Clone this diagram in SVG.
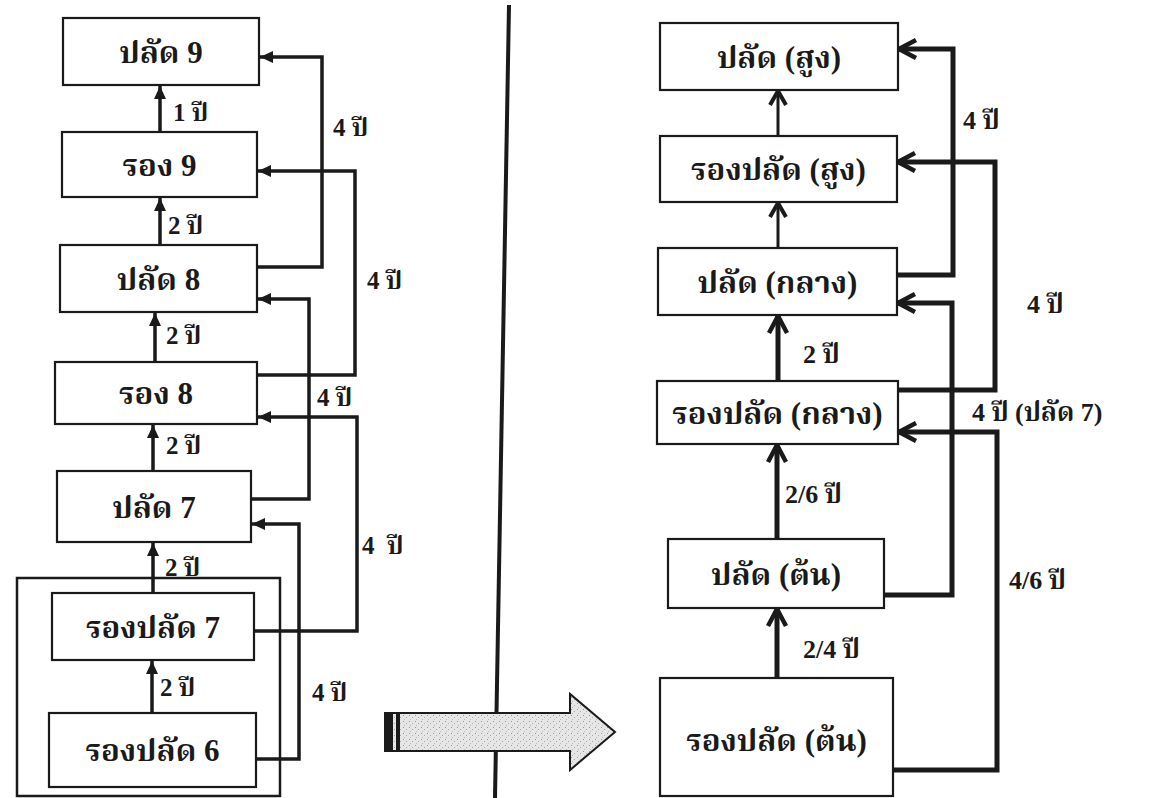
<svg xmlns="http://www.w3.org/2000/svg" width="1161" height="798" viewBox="0 0 1161 798">
<style>
.box{fill:#fff;stroke:#1a1a1a;stroke-width:2.2}
.t{font-family:"Liberation Serif","Noto Serif Thai","Norasi","DejaVu Serif",serif;font-weight:bold;fill:#1a1a1a;text-anchor:middle;dominant-baseline:central;font-size:31px}
.lb{font-family:"Liberation Serif","Noto Serif Thai","Norasi","DejaVu Serif",serif;font-weight:bold;fill:#1a1a1a;font-size:25px}
.lbr{font-family:"Liberation Serif","Noto Serif Thai","Norasi","DejaVu Serif",serif;font-weight:bold;fill:#1a1a1a;font-size:26px}
.cl{fill:none;stroke:#1a1a1a;stroke-width:3.5;marker-end:url(#tri)}
.cr{fill:none;stroke:#1a1a1a;stroke-width:5;marker-end:url(#chev)}
.crt{fill:none;stroke:#1a1a1a;stroke-width:3;marker-end:url(#chevs)}
</style>
<defs>
<marker id="tri" markerUnits="userSpaceOnUse" markerWidth="14" markerHeight="12" refX="13" refY="6" orient="auto">
<path d="M0,0 L13,6 L0,12 z" fill="#1a1a1a"/>
</marker>
<marker id="chev" markerUnits="userSpaceOnUse" markerWidth="24" markerHeight="24" refX="21" refY="12" orient="auto">
<path d="M4,3 L21,12 L4,21" fill="none" stroke="#1a1a1a" stroke-width="4.5"/>
</marker>
<marker id="chevs" markerUnits="userSpaceOnUse" markerWidth="22" markerHeight="22" refX="19" refY="11" orient="auto">
<path d="M5,3 L19,11 L5,19" fill="none" stroke="#1a1a1a" stroke-width="4"/>
</marker>
<pattern id="stip" width="6" height="6" patternUnits="userSpaceOnUse">
<rect width="6" height="6" fill="#e6e6e6"/>
<rect x="1" y="1" width="1" height="1" fill="#999"/>
<rect x="4" y="3" width="1" height="1" fill="#aaa"/>
<rect x="2" y="5" width="1" height="1" fill="#bbb"/>
</pattern>
</defs>

<g id="divider">
<line x1="509" y1="5" x2="495" y2="798" stroke="#1a1a1a" stroke-width="4"/>
</g>
<g id="big-arrow">
<path d="M385,713 H570 V694 L615,732 L570,770 V751 H385 Z" fill="url(#stip)" stroke="#1a1a1a" stroke-width="2"/>
<rect x="385" y="713" width="8" height="38" fill="#1a1a1a"/>
<rect x="396" y="713" width="4" height="38" fill="#1a1a1a"/>
</g>

<g id="group-left">
<rect x="17" y="578" width="263" height="218" fill="none" stroke="#1a1a1a" stroke-width="2.5"/>
</g>

<g id="connectors">
<path class="cl" d="M160,132 V86"/>
<path class="cl" d="M160,245 V198"/>
<path class="cl" d="M155,362 V313"/>
<path class="cl" d="M153,471 V425"/>
<path class="cl" d="M153,593 V543"/>
<path class="cl" d="M152,713 V661"/>
<path class="cl" d="M257,267 H322 V57 H260"/>
<path class="cl" d="M257,375 H355 V171 H258"/>
<path class="cl" d="M251,499 H309 V299 H258"/>
<path class="cl" d="M254,631 H357 V417 H258"/>
<path class="cl" d="M256,759 H299 V524 H252"/>
<path class="crt" d="M778,136 V91"/>
<path class="crt" d="M778,248 V203"/>
<path class="cr" d="M778,381 V316"/>
<path class="cr" d="M777,539 V445"/>
<path class="cr" d="M777,678 V609"/>
<path class="cr" d="M897,275 H953 V49 H899"/>
<path class="cr" d="M898,390 H995 V162 H898"/>
<path class="cr" d="M884,595 H952 V303 H898"/>
<path class="cr" d="M893,770 H997 V432 H899"/>
</g>

<g id="labels">
<text class="lb" x="173" y="121">1 ปี</text>
<text class="lb" x="168" y="234">2 ปี</text>
<text class="lb" x="166" y="344">2 ปี</text>
<text class="lb" x="166" y="454">2 ปี</text>
<text class="lb" x="165" y="576">2 ปี</text>
<text class="lb" x="160" y="696">2 ปี</text>
<text class="lb" x="333" y="136">4 ปี</text>
<text class="lb" x="367" y="289">4 ปี</text>
<text class="lb" x="317" y="406">4 ปี</text>
<text class="lb" x="362" y="554" xml:space="preserve">4  ปี</text>
<text class="lb" x="312" y="701">4 ปี</text>
<text class="lbr" x="803" y="363">2 ปี</text>
<text class="lbr" x="785" y="503">2/6 ปี</text>
<text class="lbr" x="803" y="658">2/4 ปี</text>
<text class="lbr" x="963" y="129">4 ปี</text>
<text class="lbr" x="1027" y="313">4 ปี</text>
<text class="lbr" x="972" y="421">4 ปี (ปลัด 7)</text>
<text class="lbr" x="1009" y="589">4/6 ปี</text>
</g>

<g id="n-palad9"><rect class="box" x="63" y="18" width="196" height="67"/><text class="t" x="161" y="52">ปลัด 9</text></g>
<g id="n-rong9"><rect class="box" x="62" y="132" width="195" height="65"/><text class="t" x="159.5" y="165">รอง 9</text></g>
<g id="n-palad8"><rect class="box" x="60" y="245" width="197" height="67"/><text class="t" x="158.5" y="279">ปลัด 8</text></g>
<g id="n-rong8"><rect class="box" x="55" y="362" width="202" height="62"/><text class="t" x="156" y="393">รอง 8</text></g>
<g id="n-palad7"><rect class="box" x="57" y="471" width="194" height="71"/><text class="t" x="154" y="507">ปลัด 7</text></g>
<g id="n-rongpalad7"><rect class="box" x="52" y="593" width="202" height="67"/><text class="t" x="153" y="627">รองปลัด 7</text></g>
<g id="n-rongpalad6"><rect class="box" x="49" y="713" width="207" height="74"/><text class="t" x="152.5" y="750">รองปลัด 6</text></g>

<g id="n-palad-high"><rect class="box" x="660" y="23" width="238" height="67"/><text class="t" x="779" y="57">ปลัด (สูง)</text></g>
<g id="n-rongpalad-high"><rect class="box" x="660" y="136" width="237" height="66"/><text class="t" x="778.5" y="169">รองปลัด (สูง)</text></g>
<g id="n-palad-mid"><rect class="box" x="658" y="248" width="239" height="67"/><text class="t" x="777.5" y="282">ปลัด (กลาง)</text></g>
<g id="n-rongpalad-mid"><rect class="box" x="657" y="381" width="241" height="63"/><text class="t" x="777.5" y="413">รองปลัด (กลาง)</text></g>
<g id="n-palad-low"><rect class="box" x="668" y="539" width="216" height="69"/><text class="t" x="776" y="574">ปลัด (ต้น)</text></g>
<g id="n-rongpalad-low"><rect class="box" x="660" y="678" width="233" height="118"/><text class="t" x="776.5" y="740">รองปลัด (ต้น)</text></g>
</svg>
